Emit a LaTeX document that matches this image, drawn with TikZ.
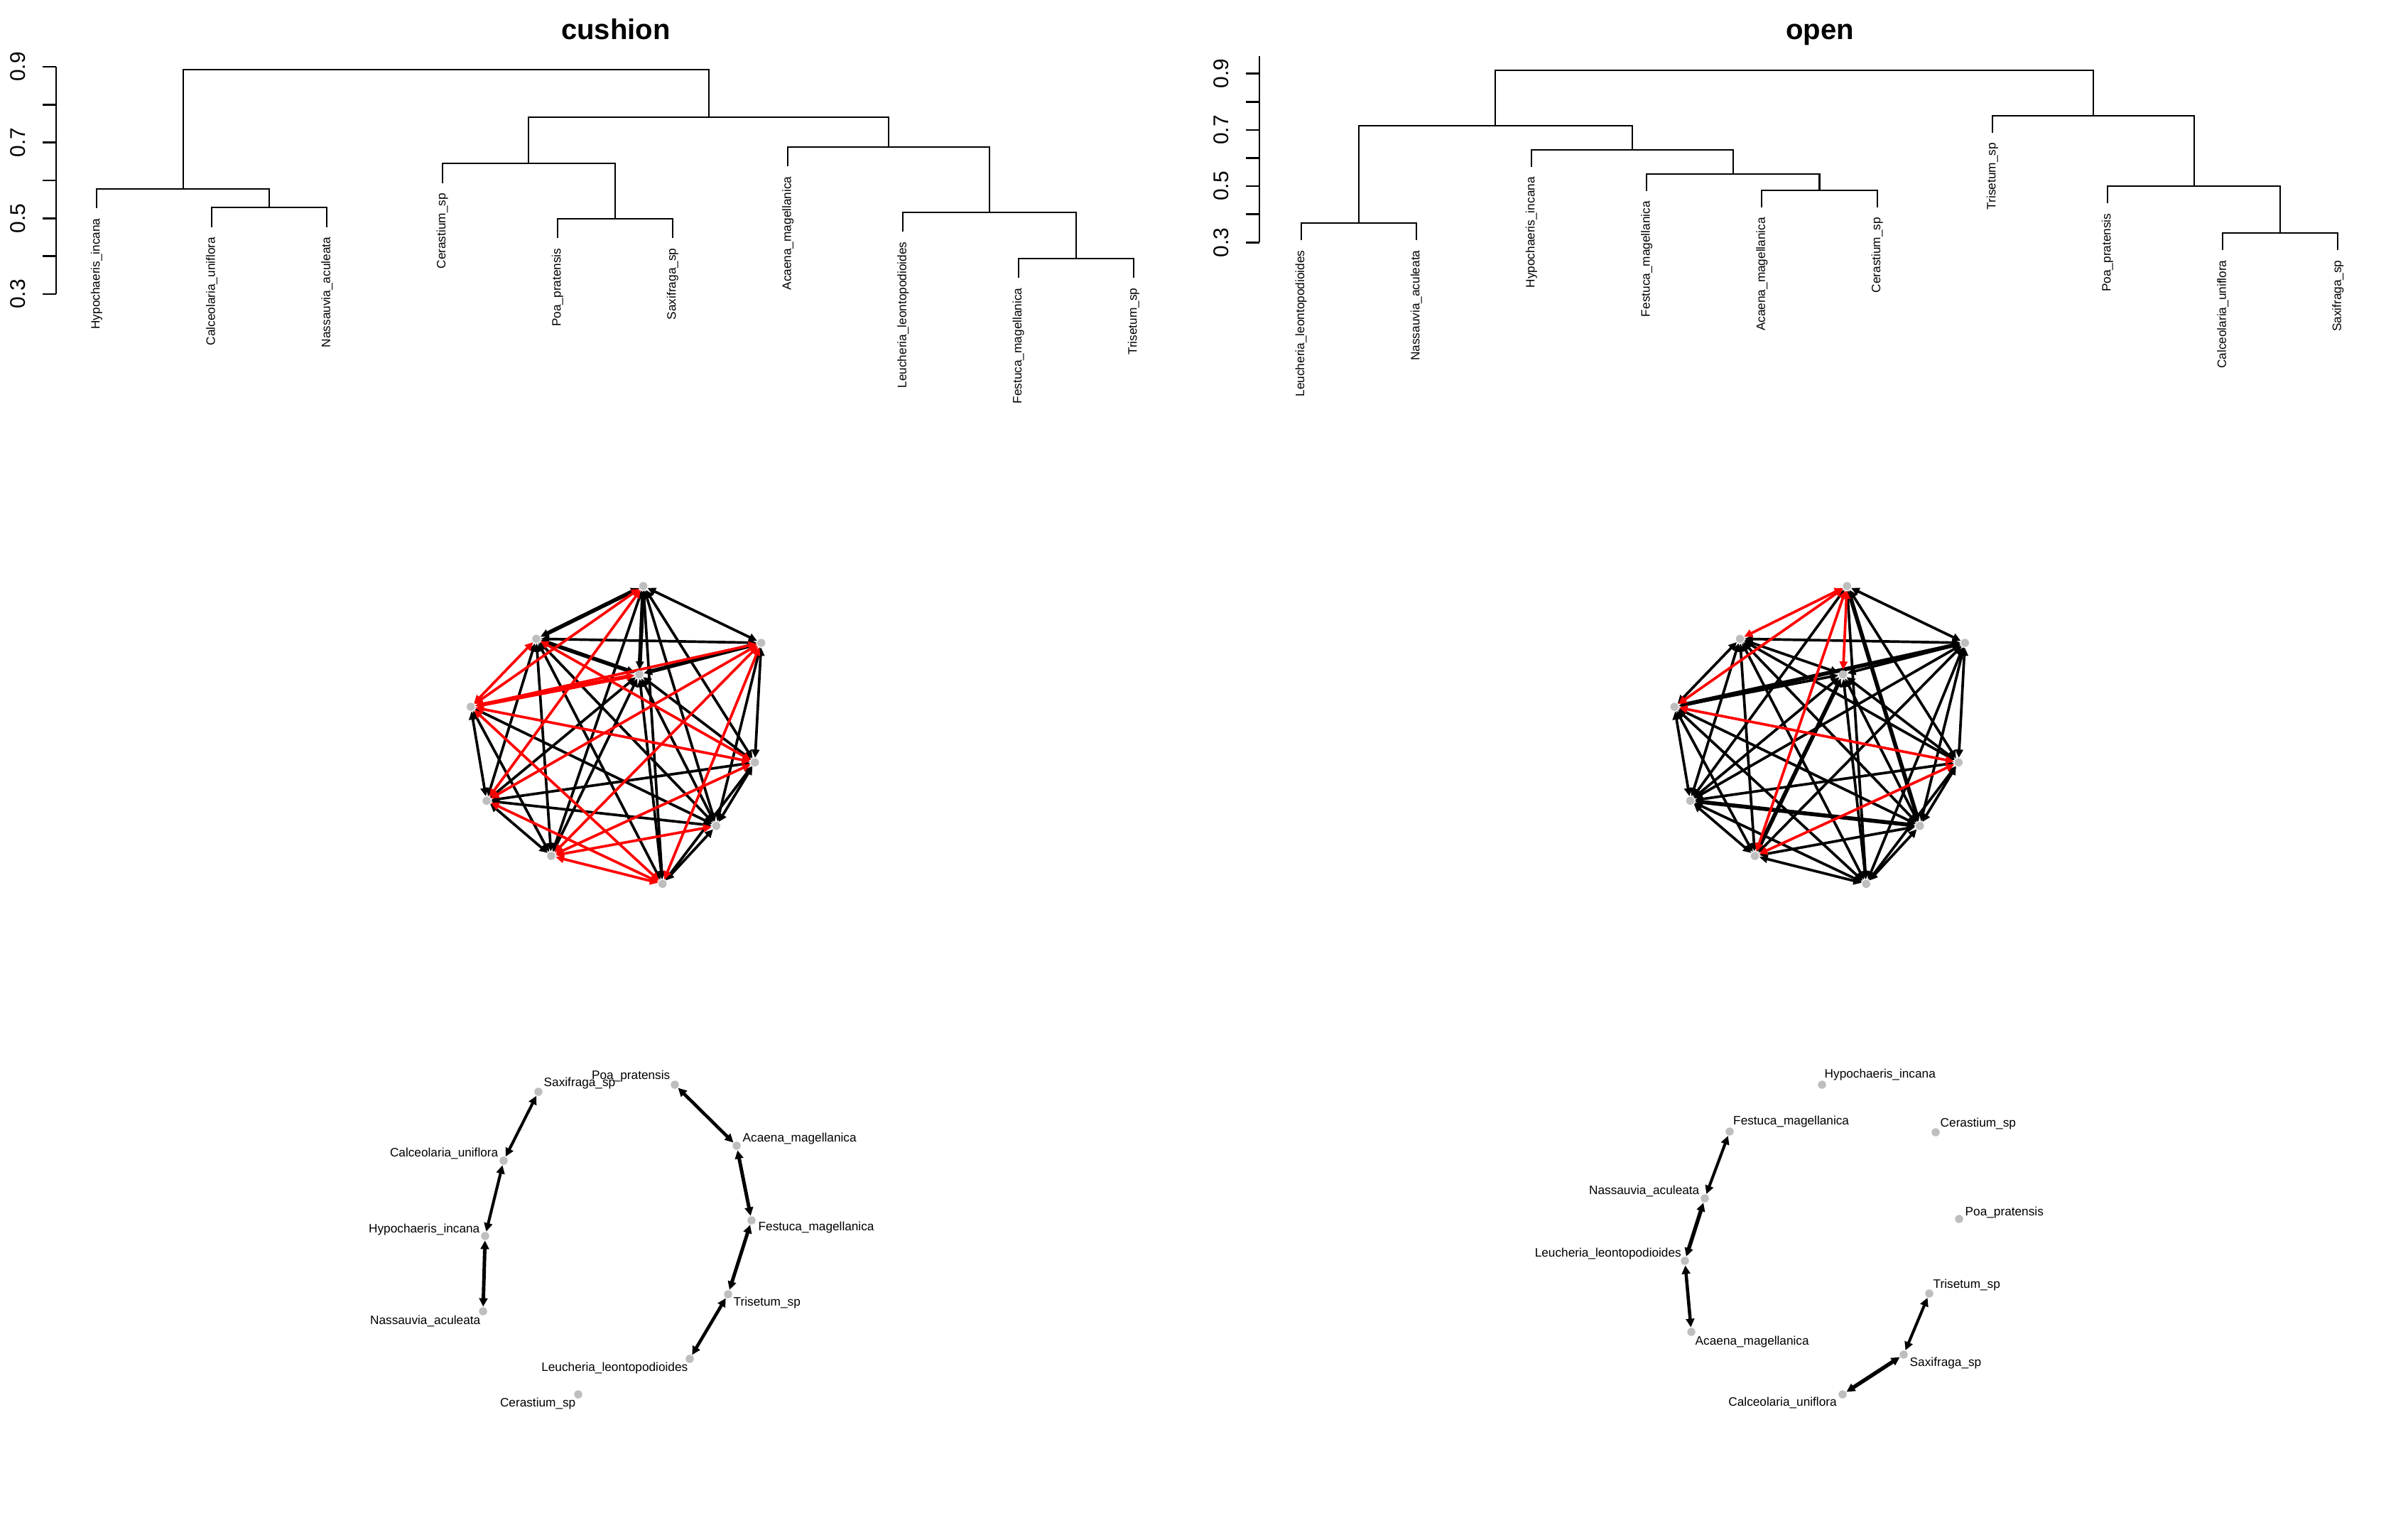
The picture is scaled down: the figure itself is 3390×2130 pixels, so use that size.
\documentclass[tikz,border=0pt]{standalone}
\usepackage{fontspec}
\setmainfont{Liberation Sans}
\usetikzlibrary{arrows.meta,backgrounds,calc}
\definecolor{nodegray}{HTML}{BEBEBE}
\tikzset{
  dendro/.style={line width=0.6pt},
  axisline/.style={line width=0.75pt},
  axlab/.style={rotate=90, inner sep=0pt, font=\fontsize{8.5}{10}\selectfont},
  leaflab/.style={rotate=90, anchor=east, inner sep=0pt, font=\fontsize{4.9}{6}\selectfont},
  ttl/.style={anchor=base, inner sep=0pt, font=\fontsize{11.4}{13}\selectfont\bfseries},
  netnode/.style={circle, fill=nodegray, inner sep=0pt, minimum size=0.115cm},
  netedge/.style={>={Triangle[length=3.3pt,width=3.1pt]}, <->, line width=1.05pt},
  netheavy/.style={netedge, line width=1.6pt},
  splab/.style={inner sep=0pt, font=\fontsize{4.9}{6}\selectfont},
  bond/.style={>={Triangle[length=3.4pt,width=3.3pt]}, <->, line width=1.15pt},
}
\begin{document}
\begin{tikzpicture}[x=0.01cm, y=-0.01cm]
\useasboundingbox (0,0) rectangle (3390,2130);

% titles
\node[ttl] (tcush) at (867,55) {cushion};
\node[ttl] (topen) at (2562,55) {open};

% axes
\draw[axisline] (79,94) -- (79,414);
\foreach \t in {0,...,6} \draw[axisline] (79,94+53.33*\t) -- (60,94+53.33*\t);
\foreach \v/\y [count=\i] in {0.9/94,0.7/200.7,0.5/307.3,0.3/414}
  \node[axlab] (cax\i) at (25,\y) {\v};
\draw[axisline] (1773,79.4) -- (1773,341.4);
\foreach \t in {0,...,6} \draw[axisline] (1773,103.7+39.6*\t) -- (1754,103.7+39.6*\t);
\foreach \v/\y [count=\i] in {0.9/103.7,0.7/182.9,0.5/262.1,0.3/341.3}
  \node[axlab] (oax\i) at (1719,\y) {\v};

% cushion dendrogram
\draw[dendro] (1433.6,391.3) |- (1595.8,363.8) -- (1595.8,391.3);
\draw[dendro] (1271.4,326.3) |- (1514.7,298.8) -- (1514.7,363.8);
\draw[dendro] (1109.2,234.3) |- (1393,206.8) -- (1393,298.8);
\draw[dendro] (784.8,335.4) |- (947,307.9) -- (947,335.4);
\draw[dendro] (622.6,257.9) |- (865.9,230.4) -- (865.9,307.9);
\draw[dendro] (744.3,230.4) |- (1251.1,165.4) -- (1251.1,206.8);
\draw[dendro] (298.2,319.8) |- (460.4,292.3) -- (460.4,319.8);
\draw[dendro] (136,293.2) |- (379.3,265.7) -- (379.3,292.3);
\draw[dendro] (257.7,265.7) |- (997.7,98) -- (997.7,165.4);
\foreach \x/\y/\s [count=\i] in {136/293.2/Hypochaeris\_incana, 298.2/319.8/Calceolaria\_uniflora,
    460.4/319.8/Nassauvia\_aculeata, 622.6/257.9/Cerastium\_sp, 784.8/335.4/Poa\_pratensis,
    947/335.4/Saxifraga\_sp, 1109.2/234.3/Acaena\_magellanica, 1271.4/326.3/Leucheria\_leontopodioides,
    1433.6/391.3/Festuca\_magellanica, 1595.8/391.3/Trisetum\_sp}
  \node[leaflab] (cleaf\i) at (\x,\y+13.5) {\s};

% open dendrogram
\draw[dendro] (2480.4,291.8) |- (2642.6,267.8) -- (2642.6,291.8);
\draw[dendro] (2318.2,269) |- (2561.5,245) -- (2561.5,267.8);
\draw[dendro] (2156,235) |- (2439.85,211) -- (2439.85,245);
\draw[dendro] (1831.6,338.3) |- (1993.8,314.3) -- (1993.8,338.3);
\draw[dendro] (1912.7,314.3) |- (2297.9,177.3) -- (2297.9,211);
\draw[dendro] (3129.2,352.2) |- (3291.4,328.2) -- (3291.4,352.2);
\draw[dendro] (2967,286.4) |- (3210.3,262.4) -- (3210.3,328.2);
\draw[dendro] (2804.8,187) |- (3088.65,163) -- (3088.65,262.4);
\draw[dendro] (2105.3,177.3) |- (2946.7,98.7) -- (2946.7,163);
\foreach \x/\y/\s [count=\i] in {1831.6/338.3/Leucheria\_leontopodioides, 1993.8/338.3/Nassauvia\_aculeata,
    2156/235/Hypochaeris\_incana, 2318.2/269/Festuca\_magellanica, 2480.4/291.8/Acaena\_magellanica,
    2642.6/291.8/Cerastium\_sp, 2804.8/187/Trisetum\_sp, 2967/286.4/Poa\_pratensis,
    3129.2/352.2/Calceolaria\_uniflora, 3291.4/352.2/Saxifraga\_sp}
  \node[leaflab] (oleaf\i) at (\x,\y+13.5) {\s};

% networks (same layout in both panels)
\foreach \p/\x/\y in {top/905.7/825, ul/755/899.3, ur/1071.7/905, ctr/900/949.3, lft/662.7/995,
    ll/685/1127.3, rgt/1062.7/1073.3, lr/1008.3/1162.7, bl/776/1205, bot/932.7/1244.3} {
  \node[netnode] (c\p) at (\x,\y) {};
  \node[netnode] (o\p) at ({\x+1694.5},\y) {};
}

% association graphs
\foreach \n/\x/\y in {sax/758/1537, poa/950/1527, calc/709/1634, aca/1037/1613, hypo/683/1740,
    fest/1058/1718, tris/1025/1822, nass/680/1846, leuc/971/1913, cera/814/1963}
  \node[netnode] (cs\n) at (\x,\y) {};
\foreach \n/\x/\y in {hypo/2565/1527, fest/2435/1593, cera/2725/1594, nass/2400/1687, poa/2758/1716,
    leuc/2372/1775, tris/2716/1821, aca/2381/1875, sax/2680/1907, calc/2594/1963}
  \node[netnode] (os\n) at (\x,\y) {};

\node[splab, anchor=base west] (lcsax) at ($(cssax)+(7,-7.5)$) {Saxifraga\_sp};
\node[splab, anchor=base east] (lcpoa) at ($(cspoa)+(-6,-8)$) {Poa\_pratensis};
\node[splab, anchor=base east] (lccalc) at ($(cscalc)+(-7,-6)$) {Calceolaria\_uniflora};
\node[splab, anchor=base west] (lcaca) at ($(csaca)+(8,-6)$) {Acaena\_magellanica};
\node[splab, anchor=base east] (lchypo) at ($(cshypo)+(-7,-5)$) {Hypochaeris\_incana};
\node[splab, anchor=base west] (lcfest) at ($(csfest)+(9,14)$) {Festuca\_magellanica};
\node[splab, anchor=base west] (lctris) at ($(cstris)+(7,16)$) {Trisetum\_sp};
\node[splab, anchor=base east] (lcnass) at ($(csnass)+(-3,18.5)$) {Nassauvia\_aculeata};
\node[splab, anchor=base east] (lcleuc) at ($(csleuc)+(-2,17.5)$) {Leucheria\_leontopodioides};
\node[splab, anchor=base east] (lccera) at ($(cscera)+(-3,17.5)$) {Cerastium\_sp};

\node[splab, anchor=base west] (lohypo) at ($(oshypo)+(3,-10)$) {Hypochaeris\_incana};
\node[splab, anchor=base west] (lofest) at ($(osfest)+(4.5,-10)$) {Festuca\_magellanica};
\node[splab, anchor=base west] (locera) at ($(oscera)+(6,-8)$) {Cerastium\_sp};
\node[splab, anchor=base east] (lonass) at ($(osnass)+(-7,-6)$) {Nassauvia\_aculeata};
\node[splab, anchor=base west] (lopoa) at ($(ospoa)+(8,-5)$) {Poa\_pratensis};
\node[splab, anchor=base east] (loleuc) at ($(osleuc)+(-4.5,-6)$) {Leucheria\_leontopodioides};
\node[splab, anchor=base west] (lotris) at ($(ostris)+(5,-8)$) {Trisetum\_sp};
\node[splab, anchor=base west] (loaca) at ($(osaca)+(5,18)$) {Acaena\_magellanica};
\node[splab, anchor=base west] (losax) at ($(ossax)+(8,16)$) {Saxifraga\_sp};
\node[splab, anchor=base east] (localc) at ($(oscalc)+(-7.6,16.4)$) {Calceolaria\_uniflora};

\begin{scope}[on background layer]
\fill[white] (0,0) rectangle (3390,2130);
% cushion network
\foreach \a/\b in {top/ur, top/rgt, top/lr, top/bl, top/bot, ul/ur, ul/ll, ul/lr, ul/bl, ul/bot,
    ur/rgt, ur/lr, ctr/rgt, ctr/ll, ctr/lr, ctr/bl, ctr/bot, lft/ll, lft/lr, lft/bl,
    rgt/ll, rgt/lr, rgt/bot, ll/lr, ll/bl, lr/bot}
  \draw[netedge] (c\a) -- (c\b);
\foreach \a/\b in {top/ul, top/ctr, ul/ctr, ur/ctr}
  \draw[netheavy] (c\a) -- (c\b);
\foreach \a/\b in {top/lft, top/ll, ul/lft, ul/rgt, ur/lft, ur/ll, ur/bl, ur/bot,
    lft/rgt, lft/bot, rgt/bl, ll/bot, lr/bl, bl/bot}
  \draw[netedge, red] (c\a) -- (c\b);
\draw[netheavy, red] (cctr) -- (clft);
% open network
\foreach \a/\b in {top/ur, top/rgt, top/ll, top/bot, ul/ur, ul/ctr, ul/lft, ul/rgt, ul/ll, ul/lr,
    ul/bl, ul/bot, ur/ctr, ur/rgt, ur/ll, ur/lr, ur/bl, ur/bot, ctr/lft, ctr/rgt, ctr/ll, ctr/lr,
    ctr/bot, lft/ll, lft/lr, lft/bl, lft/bot, rgt/ll, rgt/lr, rgt/bot, ll/bl, ll/bot, lr/bl,
    lr/bot, bl/bot}
  \draw[netedge] (o\a) -- (o\b);
\foreach \a/\b in {ur/lft, ctr/bl, ll/lr, top/lr}
  \draw[netheavy] (o\a) -- (o\b);
\foreach \a/\b in {top/ul, top/ctr, top/lft, top/bl, lft/rgt, rgt/bl}
  \draw[netedge, red] (o\a) -- (o\b);
% graph links
\draw[bond] (cssax) -- (cscalc);
\draw[bond] (cscalc) -- (cshypo);
\draw[bond, line width=1.4pt] (cshypo) -- (csnass);
\draw[bond, line width=1.3pt] (cspoa) -- (csaca);
\draw[bond, line width=1.4pt] (csaca) -- (csfest);
\draw[bond, line width=1.4pt] (csfest) -- (cstris);
\draw[bond, line width=1.3pt] (cstris) -- (csleuc);
\draw[bond] (osfest) -- (osnass);
\draw[bond, line width=1.55pt] (osnass) -- (osleuc);
\draw[bond, line width=1.3pt] (osleuc) -- (osaca);
\draw[bond] (ostris) -- (ossax);
\draw[bond, line width=1.55pt] (ossax) -- (oscalc);
\end{scope}
\end{tikzpicture}
\end{document}
